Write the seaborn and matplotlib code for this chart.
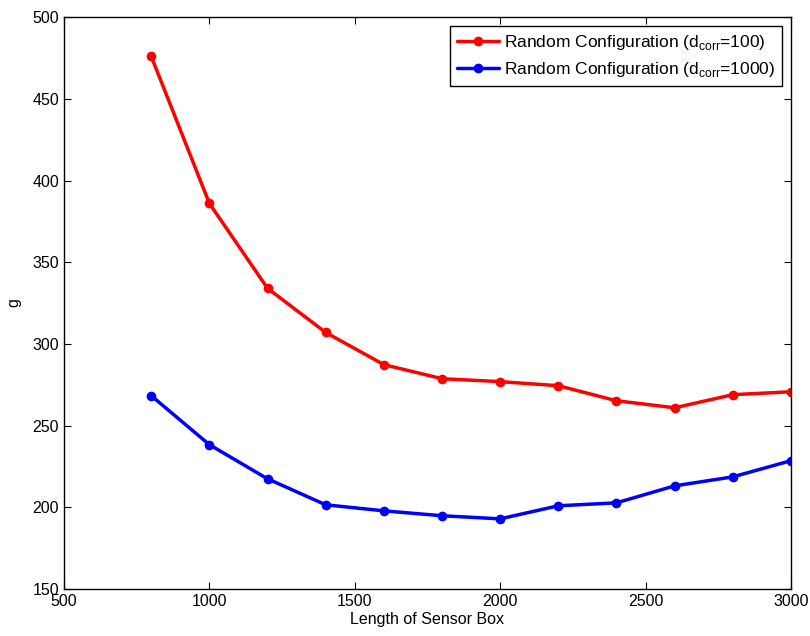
import matplotlib
matplotlib.use("Agg")
import matplotlib.pyplot as plt
import seaborn as sns
import pandas as pd

x_vals = [800, 1000, 1200, 1400, 1600, 1800, 2000, 2200, 2400, 2600, 2800, 3000]
g_dcorr100 = [476, 386, 334, 307, 287.3, 278.7, 276.9, 274.4, 265.2, 260.9, 268.9, 270.7]
g_dcorr1000 = [268.3, 238.3, 217.4, 201.5, 197.8, 194.8, 192.9, 200.9, 202.7, 213.1, 218.6, 228.5]
labels = [r"Random Configuration (d$_{\mathrm{corr}}$=100)", r"Random Configuration (d$_{\mathrm{corr}}$=1000)"]

df = pd.concat([
    pd.DataFrame({"x": x_vals, "g": g_dcorr100, "series": labels[0]}),
    pd.DataFrame({"x": x_vals, "g": g_dcorr1000, "series": labels[1]}),
])

sns.set_style("ticks")
plt.rcParams["font.family"] = ["Liberation Sans", "DejaVu Sans"]
plt.rcParams["mathtext.fontset"] = "custom"
plt.rcParams["mathtext.rm"] = "Liberation Sans"
plt.rcParams["text.color"] = "black"
plt.rcParams["axes.labelcolor"] = "black"
plt.rcParams["xtick.color"] = "black"
plt.rcParams["ytick.color"] = "black"
plt.rcParams["axes.edgecolor"] = "black"

fig = plt.figure(figsize=(8.1, 6.36), dpi=100)
ax = fig.add_axes([0.079, 0.074, 0.8975, 0.899])
sns.lineplot(data=df, x="x", y="g", hue="series", palette=["#ff0000", "#0000ff"],
             marker="o", markersize=7, markeredgewidth=0, linewidth=2.5, ax=ax)

ax.set_xlim(500, 3000)
ax.set_ylim(150, 500)
ax.set_xticks(range(500, 3001, 500))
ax.set_yticks(range(150, 501, 50))
ax.tick_params(direction="in", length=5, labelsize=11.5, top=True, right=True, width=0.8)
for s in ax.spines.values():
    s.set_visible(True)
    s.set_linewidth(1)
ax.set_xlabel("Length of Sensor Box", fontsize=11.5, labelpad=2)
ax.set_ylabel("g", fontsize=11.5, labelpad=8)

leg = ax.legend(loc="upper right", fontsize=12.5, frameon=True, fancybox=False,
                edgecolor="black", framealpha=1, handlelength=2.4, handletextpad=0.3,
                borderaxespad=0.5, labelspacing=0.45, borderpad=0.4)
leg.get_frame().set_linewidth(1)

fig.savefig("out.png", dpi=100)
